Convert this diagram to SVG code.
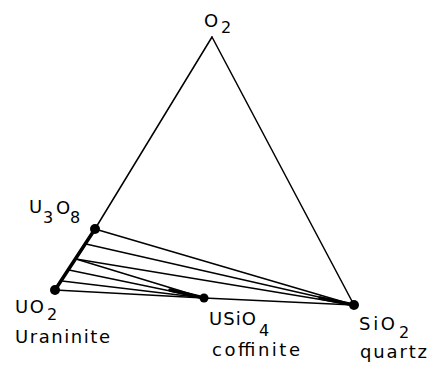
<svg xmlns="http://www.w3.org/2000/svg" width="442" height="366" viewBox="0 0 442 366">
<style>
.ln{stroke:#000;stroke-width:1.5;fill:none;stroke-linecap:round}
.thick{stroke:#000;stroke-width:3.5;fill:none;stroke-linecap:round}
.dot{fill:#000}
.t{font-family:"DejaVu Sans",sans-serif;font-size:18px;fill:#000}
.s{font-family:"DejaVu Sans",sans-serif;font-size:16px;fill:#000}
</style>
<rect width="442" height="366" fill="#fff"/>
<g id="connectors">
<line class="ln" x1="212" y1="37" x2="95" y2="229"/>
<line class="ln" x1="212" y1="37" x2="354" y2="305"/>
<line class="thick" x1="95" y1="229" x2="55" y2="290"/>
<line class="ln" x1="95" y1="229" x2="354" y2="305"/>
<line class="ln" x1="86" y1="244" x2="354" y2="305"/>
<line class="ln" x1="76" y1="259" x2="354" y2="305"/>
<line class="ln" x1="76" y1="259" x2="204" y2="298"/>
<line class="ln" x1="69" y1="270" x2="204" y2="298"/>
<line class="ln" x1="62" y1="281" x2="204" y2="298"/>
<line class="ln" x1="55" y1="290" x2="204" y2="298"/>
<line class="ln" x1="204" y1="298" x2="354" y2="305"/>
<line class="thick" x1="170" y1="290" x2="200" y2="297"/>
<line class="thick" x1="320" y1="298" x2="354" y2="305"/>
</g>
<g id="O2">
<text class="t" x="204" y="27" font-size="17">O</text>
<text class="s" x="221" y="33">2</text>
</g>
<g id="U3O8">
<circle class="dot" cx="95" cy="229" r="5"/>
<text class="t" x="29" y="213">U</text>
<text class="s" x="43" y="223">3</text>
<text class="t" x="56" y="214">O</text>
<text class="s" x="70" y="223">8</text>
</g>
<g id="UO2">
<circle class="dot" cx="55" cy="290" r="5"/>
<text class="t" x="15" y="313" textLength="29">UO</text>
<text class="s" x="47" y="320">2</text>
<text class="t" x="15" y="343" textLength="95">Uraninite</text>
</g>
<g id="USiO4">
<circle class="dot" cx="204" cy="298" r="4.5"/>
<text class="t" x="209" y="325" textLength="47">USiO</text>
<text class="s" x="259" y="336">4</text>
<text class="t" x="212" y="356" textLength="88">coffinite</text>
</g>
<g id="SiO2">
<circle class="dot" cx="354" cy="305" r="5"/>
<text class="t" x="359" y="330" textLength="36">SiO</text>
<text class="s" x="399" y="338">2</text>
<text class="t" x="360" y="358" textLength="67">quartz</text>
</g>
</svg>
